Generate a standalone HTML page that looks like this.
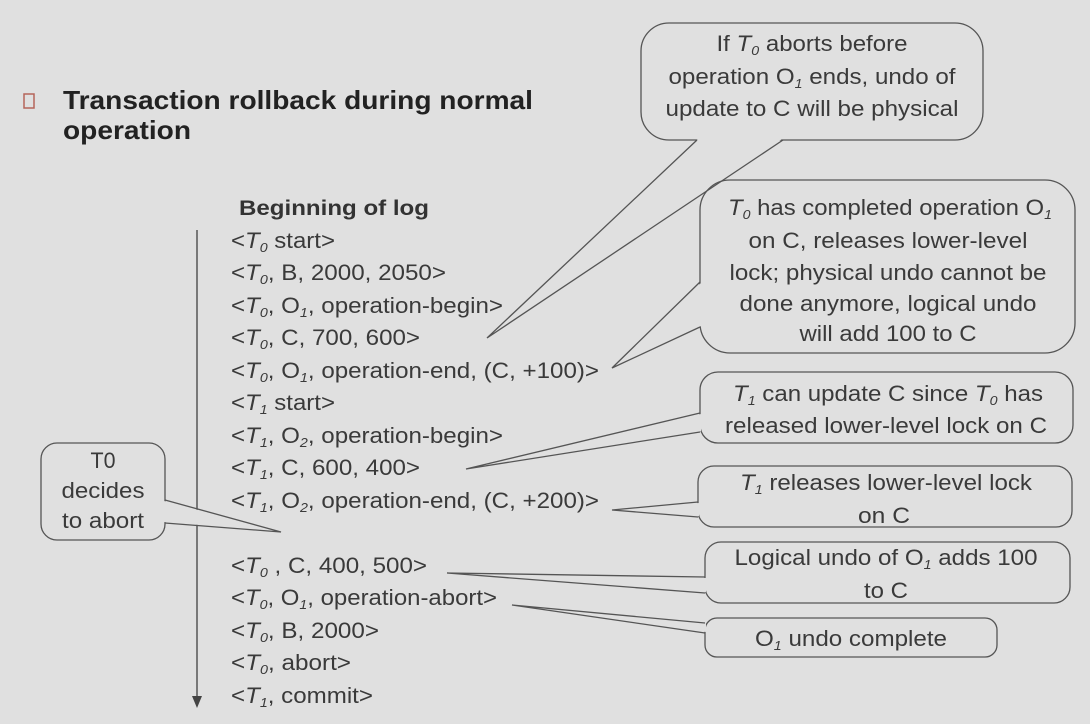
<!DOCTYPE html>
<html><head><meta charset="utf-8"><style>
html,body{margin:0;padding:0;background:#e0e0e0;}
svg{display:block;}
text{font-family:"Liberation Sans",Arial,sans-serif;fill:#3a3a3a;}
.t{font-size:22px;}
.c{text-anchor:middle;}
.s{font-size:13px;font-style:italic;}
.i{font-style:italic;}
.b{fill:none;stroke:#555;stroke-width:1.3;}
.bg{fill:#e0e0e0;stroke:none;}
</style></head><body>
<svg width="1090" height="724" viewBox="0 0 1090 724" xmlns="http://www.w3.org/2000/svg">
<rect width="1090" height="724" fill="#e0e0e0"/>
<rect x="24" y="94" width="10" height="14" fill="none" stroke="#b5655a" stroke-width="1.5"/>
<text x="63" y="109" font-size="26" font-weight="bold" style="fill:#222" textLength="470" lengthAdjust="spacingAndGlyphs">Transaction rollback during normal</text>
<text x="63" y="139" font-size="26" font-weight="bold" style="fill:#222" textLength="128" lengthAdjust="spacingAndGlyphs">operation</text>
<text x="239" y="215" font-size="21" font-weight="bold" style="fill:#333" textLength="190" lengthAdjust="spacingAndGlyphs">Beginning of log</text>

<line x1="197" y1="230" x2="197" y2="698" stroke="#555" stroke-width="1.5"/>
<polygon points="192,696 202,696 197,708" fill="#444"/>

<g class="t">
<text x="231" y="248" textLength="104" lengthAdjust="spacingAndGlyphs">&lt;<tspan class="i">T</tspan><tspan class="s" dy="4">0</tspan><tspan dy="-4"> start&gt;</tspan></text>
<text x="231" y="280" textLength="215" lengthAdjust="spacingAndGlyphs">&lt;<tspan class="i">T</tspan><tspan class="s" dy="4">0</tspan><tspan dy="-4">, B, 2000, 2050&gt;</tspan></text>
<text x="231" y="313" textLength="272" lengthAdjust="spacingAndGlyphs">&lt;<tspan class="i">T</tspan><tspan class="s" dy="4">0</tspan><tspan dy="-4">, O</tspan><tspan class="s" dy="4">1</tspan><tspan dy="-4">, operation-begin&gt;</tspan></text>
<text x="231" y="345" textLength="189" lengthAdjust="spacingAndGlyphs">&lt;<tspan class="i">T</tspan><tspan class="s" dy="4">0</tspan><tspan dy="-4">, C, 700, 600&gt;</tspan></text>
<text x="231" y="378" textLength="368" lengthAdjust="spacingAndGlyphs">&lt;<tspan class="i">T</tspan><tspan class="s" dy="4">0</tspan><tspan dy="-4">, O</tspan><tspan class="s" dy="4">1</tspan><tspan dy="-4">, operation-end, (C, +100)&gt;</tspan></text>
<text x="231" y="410" textLength="104" lengthAdjust="spacingAndGlyphs">&lt;<tspan class="i">T</tspan><tspan class="s" dy="4">1</tspan><tspan dy="-4"> start&gt;</tspan></text>
<text x="231" y="443" textLength="272" lengthAdjust="spacingAndGlyphs">&lt;<tspan class="i">T</tspan><tspan class="s" dy="4">1</tspan><tspan dy="-4">, O</tspan><tspan class="s" dy="4">2</tspan><tspan dy="-4">, operation-begin&gt;</tspan></text>
<text x="231" y="475" textLength="189" lengthAdjust="spacingAndGlyphs">&lt;<tspan class="i">T</tspan><tspan class="s" dy="4">1</tspan><tspan dy="-4">, C, 600, 400&gt;</tspan></text>
<text x="231" y="508" textLength="368" lengthAdjust="spacingAndGlyphs">&lt;<tspan class="i">T</tspan><tspan class="s" dy="4">1</tspan><tspan dy="-4">, O</tspan><tspan class="s" dy="4">2</tspan><tspan dy="-4">, operation-end, (C, +200)&gt;</tspan></text>
<text x="231" y="573" textLength="196" lengthAdjust="spacingAndGlyphs">&lt;<tspan class="i">T</tspan><tspan class="s" dy="4">0</tspan><tspan dy="-4"> , C, 400, 500&gt;</tspan></text>
<text x="231" y="605" textLength="266" lengthAdjust="spacingAndGlyphs">&lt;<tspan class="i">T</tspan><tspan class="s" dy="4">0</tspan><tspan dy="-4">, O</tspan><tspan class="s" dy="4">1</tspan><tspan dy="-4">, operation-abort&gt;</tspan></text>
<text x="231" y="638" textLength="148" lengthAdjust="spacingAndGlyphs">&lt;<tspan class="i">T</tspan><tspan class="s" dy="4">0</tspan><tspan dy="-4">, B, 2000&gt;</tspan></text>
<text x="231" y="670" textLength="120" lengthAdjust="spacingAndGlyphs">&lt;<tspan class="i">T</tspan><tspan class="s" dy="4">0</tspan><tspan dy="-4">, abort&gt;</tspan></text>
<text x="231" y="703" textLength="142" lengthAdjust="spacingAndGlyphs">&lt;<tspan class="i">T</tspan><tspan class="s" dy="4">1</tspan><tspan dy="-4">, commit&gt;</tspan></text>
</g>

<rect class="b" x="41" y="443" width="124" height="97" rx="16"/>
<polygon class="bg" points="164,501 164,522 281,532"/>
<polyline class="b" points="165,500 281,532 165,523"/>
<g class="t c">
<text x="103" y="468" textLength="25" lengthAdjust="spacingAndGlyphs">T0</text>
<text x="103" y="498" textLength="83" lengthAdjust="spacingAndGlyphs">decides</text>
<text x="103" y="528" textLength="82" lengthAdjust="spacingAndGlyphs">to abort</text>
</g>

<rect class="b" x="641" y="23" width="342" height="117" rx="28"/>
<polygon class="bg" points="698,139 782,139 487,338"/>
<polyline class="b" points="697,140 487,338 783,140"/>
<g class="t c">
<text x="812" y="51" textLength="191" lengthAdjust="spacingAndGlyphs">If <tspan class="i">T</tspan><tspan class="s" dy="4">0</tspan><tspan dy="-4"> aborts before</tspan></text>
<text x="812" y="84" textLength="287" lengthAdjust="spacingAndGlyphs">operation O<tspan class="s" dy="4">1</tspan><tspan dy="-4"> ends, undo of</tspan></text>
<text x="812" y="116" textLength="293" lengthAdjust="spacingAndGlyphs">update to C will be physical</text>
</g>

<rect class="b" x="700" y="180" width="375" height="173" rx="30"/>
<polygon class="bg" points="701,283 701,326 612,368"/>
<polyline class="b" points="700,282 612,368 700,327"/>
<g class="t c">
<text x="890" y="215" textLength="324" lengthAdjust="spacingAndGlyphs"><tspan class="i">T</tspan><tspan class="s" dy="4">0</tspan><tspan dy="-4"> has completed operation O</tspan><tspan class="s" dy="4">1</tspan></text>
<text x="888" y="248" textLength="279" lengthAdjust="spacingAndGlyphs">on C, releases lower-level</text>
<text x="888" y="280" textLength="317" lengthAdjust="spacingAndGlyphs">lock; physical undo cannot be</text>
<text x="888" y="311" textLength="297" lengthAdjust="spacingAndGlyphs">done anymore, logical undo</text>
<text x="888" y="341" textLength="177" lengthAdjust="spacingAndGlyphs">will add 100 to C</text>
</g>

<rect class="b" x="700" y="372" width="373" height="71" rx="18"/>
<polygon class="bg" points="701,414 701,431 466,469"/>
<polyline class="b" points="700,413 466,469 700,432"/>
<g class="t c">
<text x="888" y="401" textLength="310" lengthAdjust="spacingAndGlyphs"><tspan class="i">T</tspan><tspan class="s" dy="4">1</tspan><tspan dy="-4"> can update C since </tspan><tspan class="i">T</tspan><tspan class="s" dy="4">0</tspan><tspan dy="-4"> has</tspan></text>
<text x="886" y="433" textLength="322" lengthAdjust="spacingAndGlyphs">released lower-level lock on C</text>
</g>

<rect class="b" x="698" y="466" width="374" height="61" rx="16"/>
<polygon class="bg" points="699,503 699,516 612,510"/>
<polyline class="b" points="698,502 612,510 698,517"/>
<g class="t c">
<text x="886" y="490" textLength="292" lengthAdjust="spacingAndGlyphs"><tspan class="i">T</tspan><tspan class="s" dy="4">1</tspan><tspan dy="-4"> releases lower-level lock</tspan></text>
<text x="884" y="523" textLength="52" lengthAdjust="spacingAndGlyphs">on C</text>
</g>

<rect class="b" x="705" y="542" width="365" height="61" rx="16"/>
<polygon class="bg" points="706,578 706,592 447,573"/>
<polyline class="b" points="705,577 447,573 705,593"/>
<g class="t c">
<text x="886" y="565" textLength="303" lengthAdjust="spacingAndGlyphs">Logical undo of O<tspan class="s" dy="4">1</tspan><tspan dy="-4"> adds 100</tspan></text>
<text x="886" y="598" textLength="44" lengthAdjust="spacingAndGlyphs">to C</text>
</g>

<rect class="b" x="705" y="618" width="292" height="39" rx="12"/>
<polygon class="bg" points="706,624 706,632 512,605"/>
<polyline class="b" points="705,623 512,605 705,633"/>
<g class="t c">
<text x="851" y="646" textLength="192" lengthAdjust="spacingAndGlyphs">O<tspan class="s" dy="4">1</tspan><tspan dy="-4"> undo complete</tspan></text>
</g>
</svg>
</body></html>
